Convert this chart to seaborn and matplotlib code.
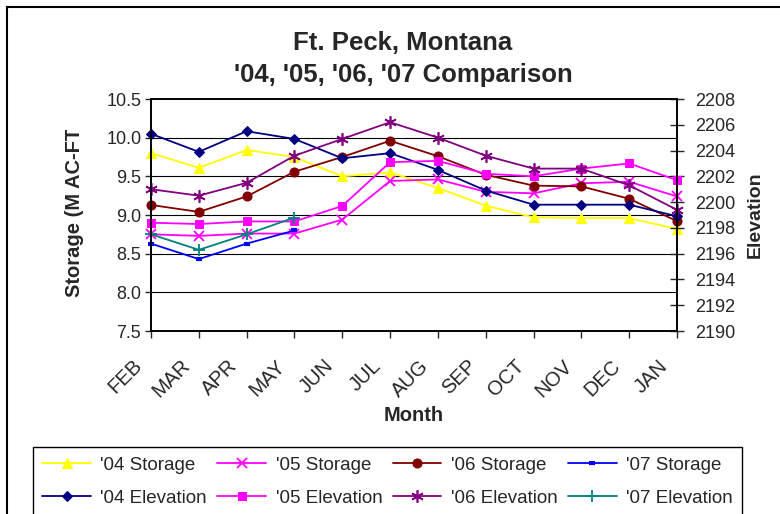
import matplotlib
matplotlib.use("Agg")
import matplotlib.pyplot as plt
import matplotlib.transforms as mtransforms
from matplotlib.patches import Rectangle
import seaborn as sns

# -- Data ----------------------------------------------------------------------

MONTHS = ["FEB", "MAR", "APR", "MAY", "JUN", "JUL",
          "AUG", "SEP", "OCT", "NOV", "DEC", "JAN"]

# storage, million acre-feet (left axis)
storage_04 = [9.80, 9.61, 9.84, 9.75, 9.50, 9.55, 9.35, 9.12, 8.97, 8.96, 8.96, 8.82]
storage_05 = [8.75, 8.73, 8.76, 8.76, 8.94, 9.44, 9.46, 9.30, 9.28, 9.41, 9.43, 9.24]
storage_06 = [9.13, 9.04, 9.24, 9.56, 9.75, 9.96, 9.76, 9.52, 9.38, 9.37, 9.21, 8.92]
storage_07 = [8.63, 8.43, 8.63, 8.80]

# pool elevation, ft (right axis)
elev_04 = [2205.3, 2203.9, 2205.5, 2204.9, 2203.4, 2203.8,
           2202.5, 2200.9, 2199.8, 2199.8, 2199.8, 2198.9]
elev_05 = [2198.4, 2198.3, 2198.5, 2198.5, 2199.7, 2203.1,
           2203.2, 2202.2, 2202.0, 2202.6, 2203.0, 2201.7]
elev_06 = [2201.0, 2200.5, 2201.5, 2203.6, 2204.9, 2206.2,
           2205.0, 2203.6, 2202.6, 2202.6, 2201.3, 2199.4]
elev_07 = [2197.5, 2196.3, 2197.5, 2198.8]

LEFT_TICKS = [7.5, 8.0, 8.5, 9.0, 9.5, 10.0, 10.5]
RIGHT_TICKS = list(range(2190, 2209, 2))

# -- Style ---------------------------------------------------------------------

sns.set_style("white")
plt.rcParams["font.family"] = ["Liberation Sans", "DejaVu Sans"]

W, H = 780, 514
fig = plt.figure(figsize=(W / 100, H / 100), dpi=100)
ax = fig.add_axes([151 / W, 1 - 331 / H, (677 - 151) / W, (331 - 99) / H])
ax2 = ax.twinx()

x = list(range(len(MONTHS)))

storage_series = [
    ("'04 Storage", storage_04, "#FFFF00", dict(marker="^", markersize=7)),
    ("'05 Storage", storage_05, "#FF00FF", dict(marker="x", markersize=7, markeredgewidth=1.3)),
    ("'06 Storage", storage_06, "#800000", dict(marker="o", markersize=6.5)),
    ("'07 Storage", storage_07, "#0000FF", dict(marker="_", markersize=5, markeredgewidth=3)),
]
elev_series = [
    ("'04 Elevation", elev_04, "#000080", dict(marker="D", markersize=5.5)),
    ("'05 Elevation", elev_05, "#FF00FF", dict(marker="s", markersize=6)),
    ("'06 Elevation", elev_06, "#800080", dict(marker=(6, 2, 0), markersize=9, markeredgewidth=1.2)),
    ("'07 Elevation", elev_07, "#008080", dict(marker="+", markersize=9, markeredgewidth=1.3)),
]

for axis, series in ((ax, storage_series), (ax2, elev_series)):
    for label, vals, color, mk in series:
        sns.lineplot(x=x[:len(vals)], y=vals, ax=axis, color=color, label=label,
                     linewidth=1.3, markeredgecolor=color, markerfacecolor=color,
                     clip_on=False, legend=False, **mk)

# -- Axes ----------------------------------------------------------------------

ax.set_xlim(0, 11)
ax.set_ylim(7.5, 10.5)
ax2.set_ylim(2190, 2208)
ax.set_yticks(LEFT_TICKS)
ax.set_yticklabels([f"{v:.1f}" for v in LEFT_TICKS])
ax2.set_yticks(RIGHT_TICKS)
ax.set_xticks(x)
ax.set_xticklabels([])

# month labels sit down-left of their ticks, Excel style
month_tr = ax.get_xaxis_transform() + mtransforms.ScaledTranslation(
    -12 / 100, -32 / 100, fig.dpi_scale_trans)
for xi, m in zip(x, MONTHS):
    ax.text(xi, 0, m, transform=month_tr, rotation=45, ha="right", va="center",
            rotation_mode="anchor", fontsize=14.5, clip_on=False)

for a in (ax, ax2):
    for s in a.spines.values():
        s.set_visible(True)
        s.set_color("black")
        s.set_linewidth(1.2)

ax.grid(False)
ax2.grid(False)
for v in LEFT_TICKS[1:-1]:
    ax.axhline(v, color="black", linewidth=0.8, zorder=0)

ax.tick_params(axis="y", direction="out", length=4, width=1, labelsize=13, pad=3, left=True)
ax.tick_params(axis="x", direction="out", length=5, width=1, bottom=True)
ax2.tick_params(axis="y", direction="inout", length=10, width=1, labelsize=13, pad=8, right=True)

ax.set_xlabel("Month", fontsize=14.5, fontweight="bold")
ax.xaxis.set_label_coords(0.5, -0.322)
ax.set_ylabel("Storage (M AC-FT)", fontsize=14.5, fontweight="bold")
ax.yaxis.set_label_coords(-0.128, 0.528)
ax2.set_ylabel("Elevation", fontsize=14, fontweight="bold", labelpad=8)

# label is cut off at the top in the original
ax.yaxis.label.set_clip_box(mtransforms.Bbox.from_extents(0, 0, W, H - 130))
ax.yaxis.label.set_clip_on(True)

fig.text(403 / W, 1 - 59 / H, "Ft. Peck, Montana\n'04, '05, '06, '07 Comparison",
         ha="center", va="center", fontsize=18.5, fontweight="bold", linespacing=1.43)

# -- Legend --------------------------------------------------------------------

h1, l1 = ax.get_legend_handles_labels()
h2, l2 = ax2.get_legend_handles_labels()
handles, labels = [], []
for i in range(4):
    handles += [h1[i], h2[i]]
    labels += [l1[i], l2[i]]
leg = fig.legend(handles, labels, ncol=4, loc="upper left",
                 bbox_to_anchor=(33 / W, 0, (742 - 33) / W, 1 - 447 / H),
                 mode="expand", fontsize=13.5, frameon=True, fancybox=False,
                 edgecolor="black", framealpha=1, borderaxespad=0,
                 handlelength=2.6, handletextpad=0.5, columnspacing=0.6,
                 labelspacing=0.85, borderpad=0.5)
leg.get_frame().set_linewidth(1.0)

# chart area border (runs off the right and bottom)
fig.add_artist(Rectangle((7 / W, -0.2), 2, 1.2 - 7 / H, transform=fig.transFigure,
                         fill=False, edgecolor="black", linewidth=1.5))

fig.savefig("out.png", dpi=100)
